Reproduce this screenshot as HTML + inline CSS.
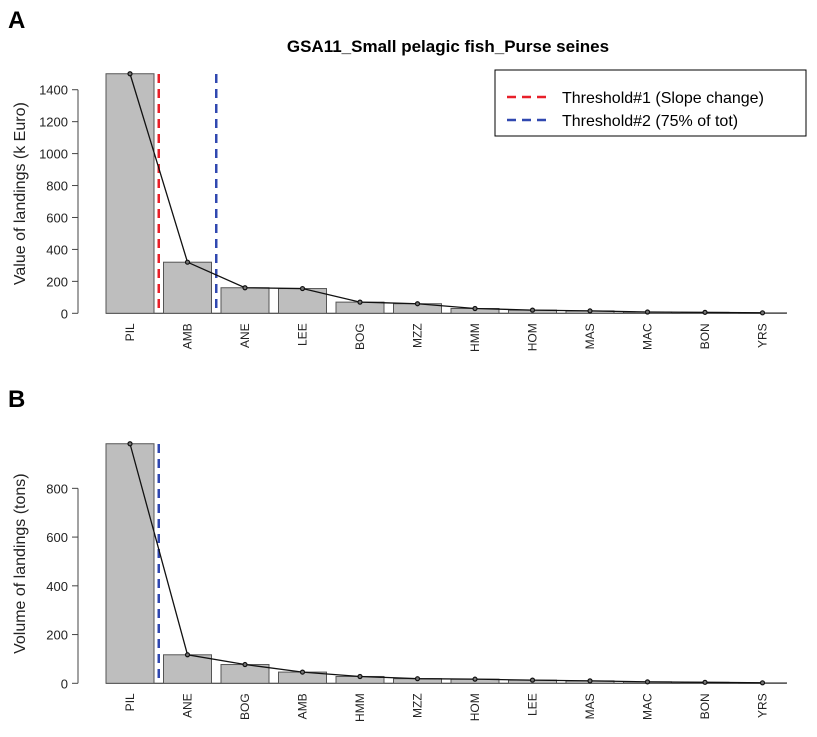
<!DOCTYPE html>
<html><head><meta charset="utf-8"><style>
body{margin:0;background:#fff}
svg{font-family:"Liberation Sans",Arial,sans-serif}
</style></head><body>
<svg id="c" width="817" height="732" xmlns="http://www.w3.org/2000/svg">
<text x="8" y="28" font-size="24" font-weight="bold">A</text>
<text x="8" y="407" font-size="24" font-weight="bold">B</text>
<text x="448" y="52" font-size="17" font-weight="bold" text-anchor="middle">GSA11_Small pelagic fish_Purse seines</text>
<g>
<rect x="495" y="70" width="311" height="66" fill="#fff" stroke="#000"/>
<line x1="507" y1="97" x2="547" y2="97" stroke="#e8202a" stroke-width="2.5" stroke-dasharray="9,6"/>
<text x="562" y="103" font-size="16">Threshold#1 (Slope change)</text>
<line x1="507" y1="120" x2="547" y2="120" stroke="#3048b0" stroke-width="2.5" stroke-dasharray="9,6"/>
<text x="562" y="126" font-size="16">Threshold#2 (75% of tot)</text>
</g>
<g id="pa"></g>
<g id="pb"></g>
</svg>
<script>
const catsA=["PIL","AMB","ANE","LEE","BOG","MZZ","HMM","HOM","MAS","MAC","BON","YRS"];
const valsA=[1500,320,160,155,70,60,30,20,15,8,6,3];
const ticksA=[0,200,400,600,800,1000,1200,1400];
const thrA=[{pos:0.5,color:"#e8202a",name:"threshold1-line"},{pos:1.5,color:"#3048b0",name:"threshold2-line"}];
const catsB=["PIL","ANE","BOG","AMB","HMM","MZZ","HOM","LEE","MAS","MAC","BON","YRS"];
const valsB=[983,117,77,46,28,19,17,13,10,6,4,2];
const ticksB=[0,200,400,600,800];
const thrB=[{pos:0.5,color:"#3048b0",name:"threshold2-line"}];
const NS="http://www.w3.org/2000/svg";
function mk(p,t,a){const e=document.createElementNS(NS,t);for(const k in a)e.setAttribute(k,a[k]);p.appendChild(e);return e;}
function draw(g,cats,vals,ticks,thr,y0,pxPer,ytitle,axisTop){
  const left=106,step=57.5,bw=48;
  const X=i=>left+step*i;
  const Y=v=>y0-v*pxPer;
  const yl=mk(g,"line",{x1:78,x2:78,y1:Y(ticks[ticks.length-1]),y2:Y(0),stroke:"#444"});
  
  
  ticks.forEach(t=>{
    const tl=mk(g,"line",{x1:72,x2:78,y1:Y(t),y2:Y(t),stroke:"#444"});
    
    
    const tx=mk(g,"text",{x:68,y:Y(t)+5,"font-size":13,"text-anchor":"end",fill:"#222"});tx.textContent=t;
    
    
  });
  const yt=mk(g,"text",{x:0,y:0,"font-size":16,"text-anchor":"middle",fill:"#222",transform:`translate(25,${(Y(0)+axisTop)/2}) rotate(-90)`});yt.textContent=ytitle;
  
  
  const xl=mk(g,"line",{x1:X(0),x2:X(cats.length-1)+bw,y1:y0,y2:y0,stroke:"#222"});
  
  
  cats.forEach((c,i)=>{
    const r=mk(g,"rect",{x:X(i),y:Y(vals[i]),width:bw,height:vals[i]*pxPer,fill:"#bebebe",stroke:"#555"});
    
    
    const cx=X(i)+bw/2;
    const t=mk(g,"text",{x:0,y:0,"font-size":12,"text-anchor":"end",fill:"#222",transform:`translate(${cx+4},${y0+10}) rotate(-90)`});t.textContent=c;
    
    
  });
  thr.forEach(th=>{
    const x=X(0)+bw+(th.pos-0.5)*step+ (step-bw)/2;
    const l=mk(g,"line",{x1:x,x2:x,y1:axisTop,y2:y0,stroke:th.color,"stroke-width":2.5,"stroke-dasharray":"9,6"});
    
    
  });
  const pts=vals.map((v,i)=>[X(i)+bw/2,Y(v)]);
  const pl=mk(g,"polyline",{points:pts.map(p=>p.join(",")).join(" "),fill:"none",stroke:"#111","stroke-width":1.3});
  
  
  pts.forEach(p=>{
    const c=mk(g,"circle",{cx:p[0],cy:p[1],r:2,fill:"#777",stroke:"#111","stroke-width":1.2});
    
    
  });
}
draw(document.getElementById("pa"),catsA,valsA,ticksA,thrA,313.3,0.1597,"Value of landings (k Euro)",74);
draw(document.getElementById("pb"),catsB,valsB,ticksB,thrB,683.3,0.2437,"Volume of landings (tons)",444);
</script>
</body></html>
